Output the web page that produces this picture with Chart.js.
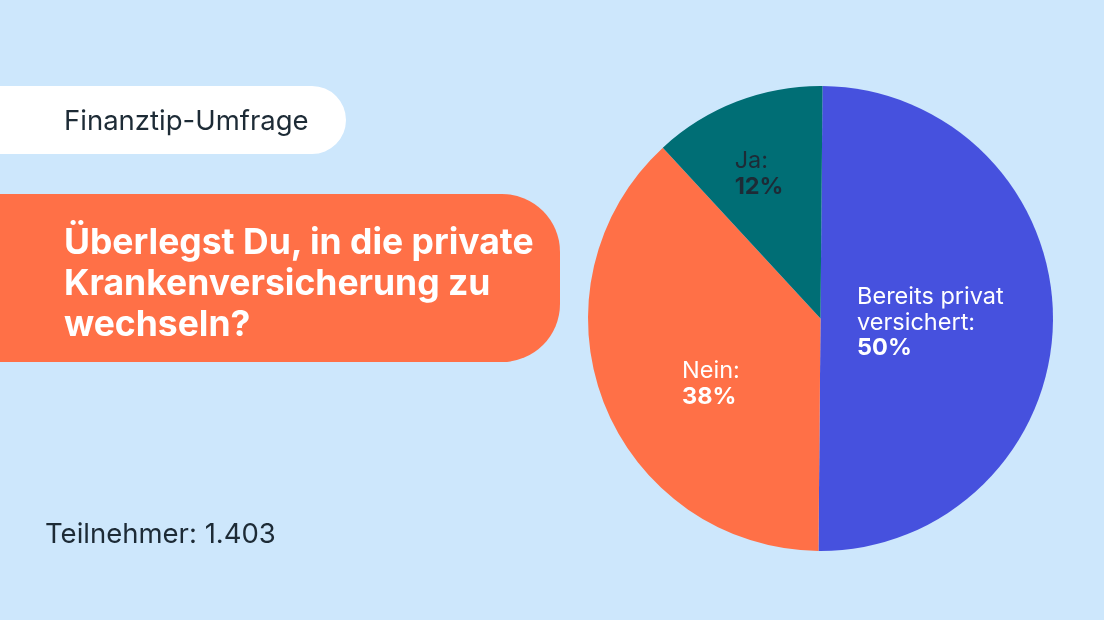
<!DOCTYPE html>
<html>
<head>
<meta charset="utf-8">
<script src="https://cdn.jsdelivr.net/npm/chart.js@4.4.1/dist/chart.umd.min.js"></script>
<style>
  html, body { margin:0; padding:0; width:1104px; height:620px; overflow:hidden; background:#CDE7FC; font-family: Inter, "Noto Sans", sans-serif; }
  #wrap { position:relative; width:1104px; height:620px; }
  canvas { position:absolute; left:0; top:0; }
  .pill { position:absolute; left:0; top:86px; width:346px; height:68px; background:#fff; border-radius:0 34px 34px 0; }
  .pill span { position:absolute; left:64px; top:0; line-height:68px; font-size:27.5px; color:#1D2B36; white-space:nowrap; }
  .qbox { position:absolute; left:0; top:194px; width:560px; height:168px; background:#FF7047; border-radius:0 58px 58px 0; }
  .qbox div { position:absolute; left:64px; top:27px; font-size:35.5px; font-weight:700; line-height:41px; color:#fff; white-space:nowrap; }
  .foot { position:absolute; left:45px; top:513px; font-size:27.5px; color:#1D2B36; line-height:40px; white-space:nowrap; }
</style>
</head>
<body>
<div id="wrap">
  <canvas id="c" width="1104" height="620"></canvas>
  <div class="pill"><span>Finanztip-Umfrage</span></div>
  <div class="qbox"><div>Überlegst Du, in die private<br>Krankenversicherung zu<br>wechseln?</div></div>
  <div class="foot">Teilnehmer: 1.403</div>
</div>
<script>
const categories = ["Bereits privat versichert", "Nein", "Ja"];
const labelLines = [["Bereits privat", "versichert:"], ["Nein:"], ["Ja:"]];
const values = [50, 38, 12];
const sliceColors = ["#4651DE", "#FF7047", "#006E75"];
const labelColors = ["#FFFFFF", "#FFFFFF", "#1D2B36"];
// label placement: fraction of radius and angle offset (deg) from slice mid-angle
const labelPlace = [{frac:0.473, dAngle:1.8}, {frac:0.549, dAngle:-9.8}, {frac:0.676, dAngle:-1.9}];

const sliceLabels = {
  id: 'sliceLabels',
  afterDatasetsDraw(chart) {
    const ctx = chart.ctx;
    const meta = chart.getDatasetMeta(0);
    meta.data.forEach((arc, i) => {
      const p = arc.getProps(['x','y','startAngle','endAngle','outerRadius'], true);
      const mid = (p.startAngle + p.endAngle) / 2 + labelPlace[i].dAngle * Math.PI / 180;
      const r = p.outerRadius * labelPlace[i].frac;
      const cx = p.x + Math.cos(mid) * r;
      const cy = p.y + Math.sin(mid) * r;
      const lines = labelLines[i];
      const pct = values[i] + '%';
      const lh = 25.5;
      const fs = 23.5;
      ctx.save();
      ctx.font = '400 ' + fs + 'px Inter';
      let w = 0;
      lines.forEach(l => { w = Math.max(w, ctx.measureText(l).width); });
      ctx.font = '700 ' + fs + 'px Inter';
      w = Math.max(w, ctx.measureText(pct).width);
      const n = lines.length + 1;
      const left = cx - w / 2;
      const top = cy - (n * lh) / 2;
      ctx.fillStyle = labelColors[i];
      ctx.textAlign = 'left';
      ctx.textBaseline = 'middle';
      ctx.font = '400 ' + fs + 'px Inter';
      lines.forEach((l, k) => ctx.fillText(l, left, top + lh * (k + 0.5)));
      ctx.font = '700 ' + fs + 'px Inter';
      ctx.fillText(pct, left, top + lh * (lines.length + 0.5));
      ctx.restore();
    });
  }
};

new Chart(document.getElementById('c'), {
  type: 'pie',
  data: {
    labels: categories,
    datasets: [{ data: values, backgroundColor: sliceColors, borderWidth: 0 }]
  },
  options: {
    responsive: false,
    animation: false,
    devicePixelRatio: 1,
    rotation: 0.5,
    layout: { padding: { left: 588, right: 51, top: 86, bottom: 69 } },
    plugins: { legend: { display: false }, tooltip: { enabled: false } }
  },
  plugins: [sliceLabels]
});
</script>
</body>
</html>
